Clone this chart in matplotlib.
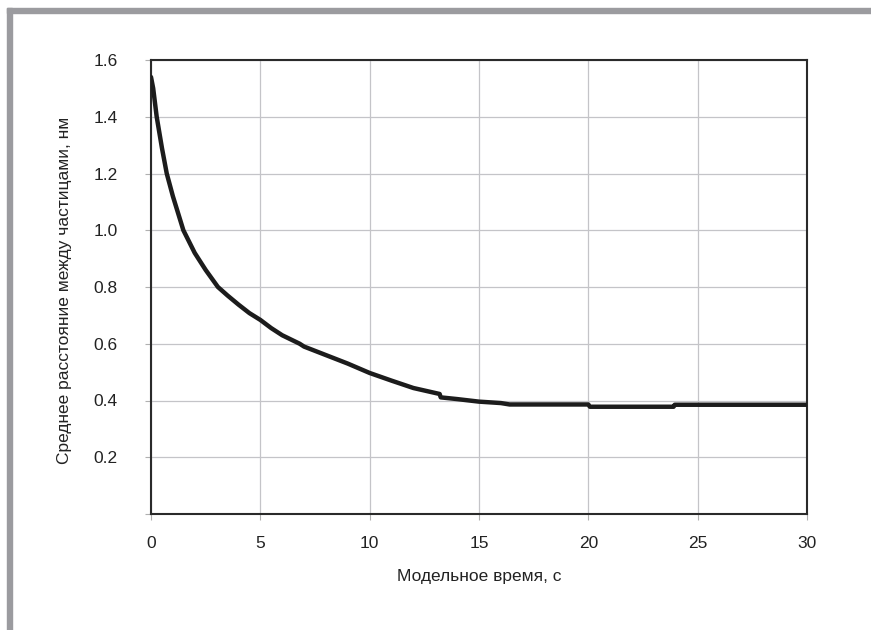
import matplotlib
matplotlib.use("Agg")
import matplotlib.pyplot as plt
from matplotlib.patches import Rectangle

plt.rcParams['font.family'] = ['Liberation Sans', 'DejaVu Sans']

# data
time_s = [0, 0.1, 0.26, 0.5, 0.72, 1.0, 1.48, 2.0, 2.5, 3.06, 3.5, 4.0, 4.5, 5.0,
          5.5, 6.0, 6.8, 7.0, 8.0, 9.0, 10.0, 11.0, 12.0, 13.2, 13.25, 14.0, 15.0,
          16.0, 16.4, 20.0, 20.07, 23.9, 23.95, 30.0]
distance_nm = [1.54, 1.50, 1.40, 1.29, 1.20, 1.12, 1.00, 0.92, 0.86, 0.80, 0.77,
               0.738, 0.708, 0.684, 0.655, 0.63, 0.60, 0.59, 0.56, 0.53, 0.497,
               0.47, 0.444, 0.423, 0.411, 0.405, 0.396, 0.391, 0.386, 0.386,
               0.378, 0.378, 0.385, 0.385]
x_ticks = [0, 5, 10, 15, 20, 25, 30]
y_ticks = [0.0, 0.2, 0.4, 0.6, 0.8, 1.0, 1.2, 1.4, 1.6]
y_tick_labels = ['', '0.2', '0.4', '0.6', '0.8', '1.0', '1.2', '1.4', '1.6']
x_label = 'Модельное время, с'
y_label = 'Среднее расстояние между частицами, нм'

W, H = 871, 630
fig = plt.figure(figsize=(W / 100, H / 100), dpi=100)
fig.patch.set_facecolor('white')

# gray frame at top and left
border = '#9b9b9f'
fig.patches.append(Rectangle((7 / W, 1 - 13.3 / H), 1 - 7 / W, 5.2 / H,
                             transform=fig.transFigure, color=border, zorder=0))
fig.patches.append(Rectangle((7 / W, 0), 5.2 / W, 1 - 8.3 / H,
                             transform=fig.transFigure, color=border, zorder=0))

ax = fig.add_axes([151 / W, 1 - 514 / H, (807 - 151) / W, (514 - 60) / H])
ax.plot(time_s, distance_nm, color='#1c1c1c', lw=3.2, solid_capstyle='round',
        solid_joinstyle='round', zorder=3)

ax.set_xlim(0, 30)
ax.set_ylim(0, 1.6)
ax.set_xticks(x_ticks)
ax.set_xticklabels([str(v) for v in x_ticks])
ax.set_yticks(y_ticks)
ax.set_yticklabels(y_tick_labels)
ax.grid(True, color='#c4c4c8', lw=0.9)
ax.set_axisbelow(True)
for s in ax.spines.values():
    s.set_color('#2a2a2a')
    s.set_linewidth(1.5)
ax.tick_params(axis='both', length=4, width=0.8, color='#b0b0b0',
               labelsize=12.5, labelcolor='#222222')
ax.tick_params(axis='y', pad=20)
ax.tick_params(axis='x', pad=12)

fig.text(479 / W, 1 - 576 / H, x_label, ha='center', va='center',
         fontsize=12.5, color='#222222')
fig.text(65 / W, 1 - 290 / H, y_label, ha='center', va='center',
         rotation=90, fontsize=12.5, color='#222222')

fig.savefig('out.png', dpi=100)
